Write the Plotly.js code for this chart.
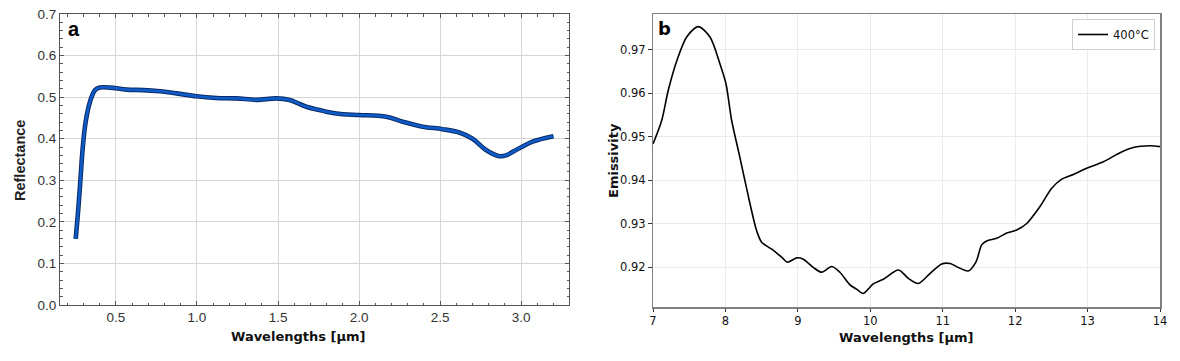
<!DOCTYPE html>
<html>
<head>
<meta charset="utf-8">
<script src="https://cdn.plot.ly/plotly-3.0.1.min.js"></script>
<style>html,body{margin:0;padding:0;background:#fff;}#chart{width:1180px;height:361px;}</style>
</head>
<body>
<div id="chart"></div>
<script>
// Panel a: reflectance vs wavelength (µm)
const waveA = [0.252, 0.268, 0.283, 0.295, 0.313, 0.34, 0.371, 0.401, 0.463, 0.566, 0.668, 0.771, 0.874, 0.997, 1.12, 1.243, 1.366, 1.49, 1.571, 1.674, 1.756, 1.797, 1.9, 2.002, 2.167, 2.269, 2.392, 2.515, 2.618, 2.7, 2.783, 2.865, 2.906, 2.988, 3.07, 3.199];
const reflectance = [0.159, 0.232, 0.3125, 0.377, 0.44, 0.489, 0.517, 0.523, 0.523, 0.518, 0.517, 0.514, 0.509, 0.502, 0.498, 0.497, 0.4935, 0.497, 0.493, 0.477, 0.469, 0.465, 0.459, 0.457, 0.453, 0.441, 0.429, 0.423, 0.415, 0.40, 0.373, 0.358, 0.36, 0.377, 0.393, 0.406];

// Panel b: emissivity vs wavelength (µm), 400°C
const waveB = [7.0, 7.12, 7.21, 7.33, 7.465, 7.625, 7.787, 7.925, 8.008, 8.086, 8.2, 8.34, 8.43, 8.5, 8.64, 8.78, 8.855, 8.984, 9.075, 9.213, 9.33, 9.467, 9.58, 9.72, 9.81, 9.9, 9.97, 10.04, 10.18, 10.39, 10.525, 10.663, 10.824, 10.986, 11.1, 11.239, 11.353, 11.46, 11.538, 11.607, 11.745, 11.883, 12.021, 12.16, 12.343, 12.505, 12.643, 12.803, 12.988, 13.217, 13.448, 13.631, 13.862, 14.0];
const emissivity = [0.9483, 0.9537, 0.9606, 0.9675, 0.9729, 0.9753, 0.9729, 0.9667, 0.9621, 0.9537, 0.9452, 0.9345, 0.9284, 0.9257, 0.9241, 0.9222, 0.9211, 0.9221, 0.9218, 0.9199, 0.9188, 0.9201, 0.9188, 0.9159, 0.9149, 0.9139, 0.9149, 0.9161, 0.9172, 0.9193, 0.9174, 0.9162, 0.9185, 0.9207, 0.9208, 0.9197, 0.9191, 0.9212, 0.9251, 0.926, 0.9266, 0.9278, 0.9285, 0.93, 0.9339, 0.9381, 0.9402, 0.9413, 0.9427, 0.9442, 0.9463, 0.9475, 0.9479, 0.9477];

const ticksA_y = [0, 0.1, 0.2, 0.3, 0.4, 0.5, 0.6, 0.7];
const ticksA_x = [0.5, 1.0, 1.5, 2.0, 2.5, 3.0];
const ticksB_y = [0.92, 0.93, 0.94, 0.95, 0.96, 0.97];
const ticksB_x = [7, 8, 9, 10, 11, 12, 13, 14];
const legendLabel = '400°C';

const W = 1180, H = 361;
const px = v => v / W;
const py = v => 1 - v / H;

const traces = [
  {x: waveA, y: reflectance, xaxis: 'x', yaxis: 'y', mode: 'lines', showlegend: false,
   line: {color: '#0a2a66', width: 4.6, shape: 'spline', smoothing: 1}, hoverinfo: 'skip'},
  {x: waveA, y: reflectance, xaxis: 'x', yaxis: 'y', mode: 'lines', showlegend: false,
   line: {color: '#0f5cc8', width: 2.6, shape: 'spline', smoothing: 1}},
  {x: waveB, y: emissivity, xaxis: 'x2', yaxis: 'y2', mode: 'lines', name: legendLabel, showlegend: true,
   line: {color: '#000000', width: 1.6, shape: 'spline', smoothing: 0.8}}
];

const fontA = {family: 'Liberation Sans, Arial, sans-serif', size: 13.5, color: '#333'};
const fontB = {family: 'DejaVu Sans, sans-serif', size: 11.5, color: '#111'};

const layout = {
  width: W, height: H,
  margin: {l: 0, r: 0, t: 0, b: 0},
  paper_bgcolor: '#fff', plot_bgcolor: '#fff',
  showlegend: true,
  xaxis: {
    domain: [px(60), px(569)], anchor: 'y', range: [0.155, 3.295],
    tickvals: ticksA_x, ticktext: ticksA_x.map(v => v.toFixed(1)),
    ticks: 'inside', ticklen: 4, tickcolor: '#555', tickwidth: 1,
    minor: {dtick: 0.1, tick0: 0, ticks: 'inside', ticklen: 2.5, tickcolor: '#555', showgrid: false},
    showgrid: true, gridcolor: '#d6d6d6', gridwidth: 1,
    showline: true, linecolor: '#555', linewidth: 1, mirror: 'allticks',
    zeroline: false, tickfont: fontA, automargin: false
  },
  yaxis: {
    domain: [py(305), py(14)], anchor: 'x', range: [0, 0.7],
    tickvals: ticksA_y, ticktext: ticksA_y.map(v => v.toFixed(1)),
    ticks: 'inside', ticklen: 4, tickcolor: '#555', tickwidth: 1,
    minor: {dtick: 0.02, tick0: 0, ticks: 'inside', ticklen: 2.5, tickcolor: '#555', showgrid: false},
    showgrid: true, gridcolor: '#d6d6d6', gridwidth: 1,
    showline: true, linecolor: '#555', linewidth: 1, mirror: 'allticks',
    zeroline: false, tickfont: fontA, automargin: false
  },
  xaxis2: {
    domain: [px(653), px(1160)], anchor: 'y2', range: [7, 14],
    tickvals: ticksB_x, ticktext: ticksB_x.map(String),
    ticks: 'outside', ticklen: 3, tickcolor: '#333', tickwidth: 1,
    showgrid: true, gridcolor: '#ebebeb', gridwidth: 1,
    showline: true, linecolor: '#808080', linewidth: 1.5, mirror: true,
    zeroline: false, tickfont: fontB, automargin: false
  },
  yaxis2: {
    domain: [py(307), py(14)], anchor: 'x2', range: [0.9108, 0.9782],
    tickvals: ticksB_y, ticktext: ticksB_y.map(v => v.toFixed(2)),
    ticks: 'outside', ticklen: 3.5, tickcolor: '#333', tickwidth: 1,
    showgrid: true, gridcolor: '#ebebeb', gridwidth: 1,
    showline: true, linecolor: '#808080', linewidth: 1.5, mirror: true,
    zeroline: false, tickfont: fontB, automargin: false
  },
  legend: {
    x: px(1155), y: py(19), xanchor: 'right', yanchor: 'top', xref: 'paper', yref: 'paper',
    bgcolor: '#fff', bordercolor: '#d0d0d0', borderwidth: 1,
    font: {family: 'DejaVu Sans, sans-serif', size: 11.5, color: '#111'},
    itemwidth: 30, tracegroupgap: 0
  },
  annotations: [
    {text: '<b>a</b>', x: px(74), y: py(29), xref: 'paper', yref: 'paper', showarrow: false,
     xanchor: 'center', yanchor: 'middle', font: {family: 'Liberation Sans, Arial, sans-serif', size: 20, color: '#000'}},
    {text: '<b>b</b>', x: px(664), y: py(28), xref: 'paper', yref: 'paper', showarrow: false,
     xanchor: 'center', yanchor: 'middle', font: {family: 'DejaVu Sans, sans-serif', size: 18, color: '#000'}},
    {text: '<b>Wavelengths [µm]</b>', x: px(298), y: py(336), xref: 'paper', yref: 'paper', showarrow: false,
     xanchor: 'center', yanchor: 'middle', font: {family: 'DejaVu Sans, sans-serif', size: 13, color: '#111'}},
    {text: '<b>Reflectance</b>', x: px(20), y: py(161), xref: 'paper', yref: 'paper', showarrow: false, textangle: -90,
     xanchor: 'center', yanchor: 'middle', font: {family: 'Liberation Sans, Arial, sans-serif', size: 14.5, color: '#222'}},
    {text: '<b>Wavelengths [µm]</b>', x: px(906), y: py(337), xref: 'paper', yref: 'paper', showarrow: false,
     xanchor: 'center', yanchor: 'middle', font: {family: 'DejaVu Sans, sans-serif', size: 13, color: '#111'}},
    {text: '<b>Emissivity</b>', x: px(613), y: py(161), xref: 'paper', yref: 'paper', showarrow: false, textangle: -90,
     xanchor: 'center', yanchor: 'middle', font: {family: 'DejaVu Sans, sans-serif', size: 13, color: '#111'}}
  ]
};

Plotly.newPlot('chart', traces, layout, {staticPlot: true, displayModeBar: false});
</script>
</body>
</html>
